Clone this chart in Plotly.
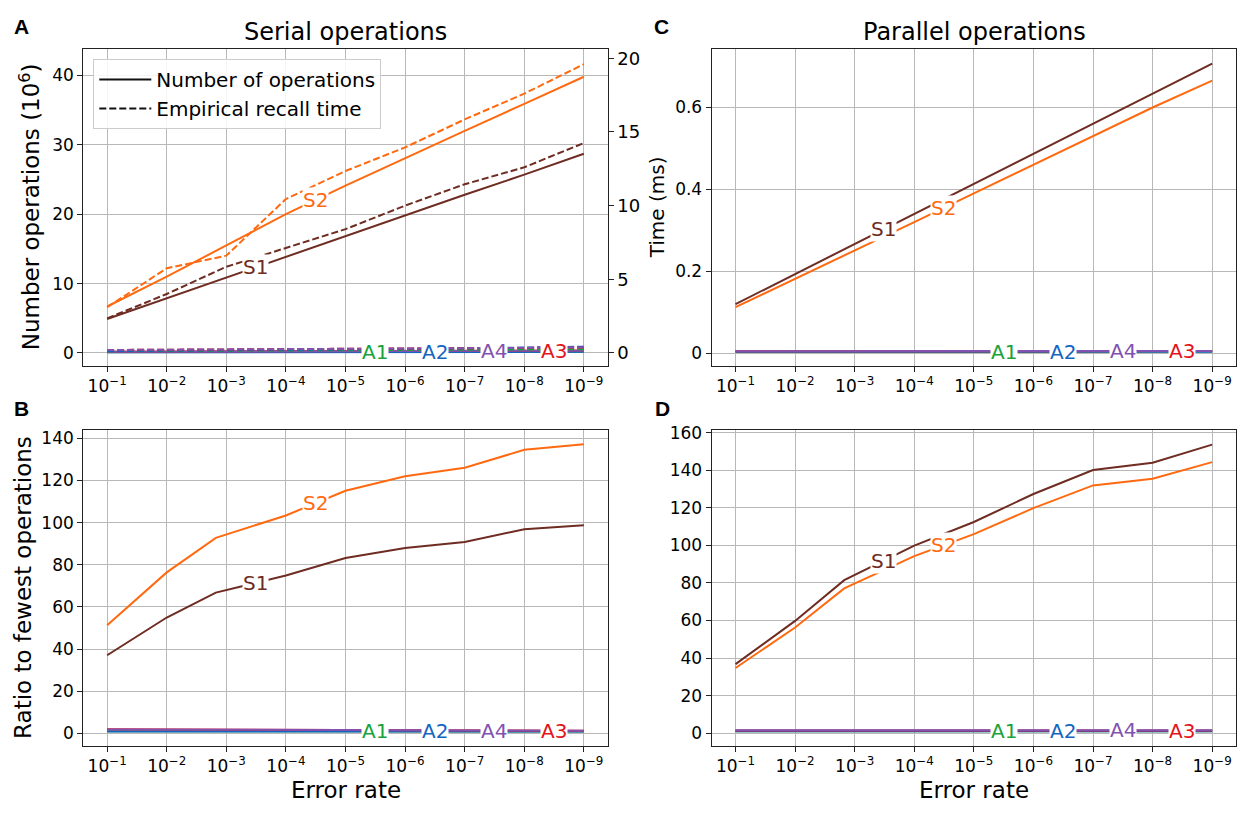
import numpy as np
import plotly.graph_objects as go

# ---------------- data ----------------
error_rates = [1e-1, 1e-2, 1e-3, 1e-4, 1e-5, 1e-6, 1e-7, 1e-8, 1e-9]
error_rates_ratio = [1e-1, 1e-2, 1.5e-3, 1e-4, 1e-5, 1e-6, 1e-7, 1e-8, 1e-9]
tick_labels = ["10<sup>\u22121</sup>", "10<sup>\u22122</sup>", "10<sup>\u22123</sup>",
               "10<sup>\u22124</sup>", "10<sup>\u22125</sup>", "10<sup>\u22126</sup>",
               "10<sup>\u22127</sup>", "10<sup>\u22128</sup>", "10<sup>\u22129</sup>"]

# Panel A: number of serial operations (10^6), left axis
s1_ops = [4.9, 7.9, 10.9, 13.8, 16.8, 19.8, 22.8, 25.7, 28.7]
s2_ops = [6.7, 11.0, 15.5, 20.0, 24.1, 28.1, 32.0, 35.9, 39.8]
a1_ops = [0.10, 0.11, 0.12, 0.13, 0.14, 0.15, 0.16, 0.17, 0.18]
a2_ops = [0.09, 0.10, 0.11, 0.12, 0.13, 0.14, 0.15, 0.16, 0.17]
a3_ops = [0.19, 0.21, 0.23, 0.25, 0.27, 0.29, 0.31, 0.33, 0.35]
a4_ops = [0.18, 0.20, 0.22, 0.24, 0.26, 0.28, 0.30, 0.32, 0.34]
# Panel A: empirical recall time (right axis)
s1_recall = [2.35, 4.0, 5.85, 7.1, 8.4, 10.0, 11.45, 12.6, 14.25]
s2_recall = [3.1, 5.75, 6.6, 10.45, 12.35, 13.95, 15.85, 17.6, 19.6]
a1_recall = [0.12, 0.14, 0.15, 0.17, 0.18, 0.20, 0.22, 0.24, 0.25]
a2_recall = [0.13, 0.15, 0.17, 0.20, 0.23, 0.27, 0.31, 0.36, 0.42]
a3_recall = [0.20, 0.22, 0.24, 0.26, 0.28, 0.30, 0.32, 0.34, 0.36]
a4_recall = [0.20, 0.21, 0.23, 0.25, 0.28, 0.30, 0.33, 0.35, 0.37]

# Panel C: parallel time (ms)
s1_time = [0.1195, 0.193, 0.266, 0.340, 0.413, 0.487, 0.560, 0.634, 0.707]
s2_time = [0.112, 0.181, 0.250, 0.320, 0.390, 0.460, 0.530, 0.600, 0.6655]
a1_time = [0.0030, 0.0030, 0.0031, 0.0031, 0.0032, 0.0032, 0.0033, 0.0033, 0.0034]
a2_time = [0.0028, 0.0029, 0.0029, 0.0030, 0.0030, 0.0031, 0.0031, 0.0032, 0.0032]
a3_time = [0.0040, 0.0041, 0.0042, 0.0043, 0.0044, 0.0045, 0.0046, 0.0047, 0.0048]
a4_time = [0.0042, 0.0043, 0.0044, 0.0045, 0.0046, 0.0047, 0.0048, 0.0049, 0.0050]

# Panel B: ratio to fewest operations (serial)
s1_ratio_serial = [37.1, 55.0, 66.8, 74.9, 83.2, 88.0, 90.8, 96.9, 98.8]
s2_ratio_serial = [51.3, 76.4, 92.8, 103.4, 115.1, 122.0, 126.0, 134.5, 137.2]
a1_ratio_serial = [1.1, 1.1, 1.05, 1.05, 1.0, 1.0, 1.0, 1.0, 1.0]
a2_ratio_serial = [1.0, 1.0, 1.0, 1.0, 1.0, 1.0, 1.0, 1.0, 1.0]
a3_ratio_serial = [2.0, 1.9, 1.8, 1.7, 1.6, 1.5, 1.45, 1.4, 1.35]
a4_ratio_serial = [1.9, 1.85, 1.75, 1.65, 1.55, 1.5, 1.45, 1.4, 1.35]

# Panel D: ratio to fewest operations (parallel)
s1_ratio_parallel = [36.8, 59.8, 81.5, 99.9, 112.5, 127.4, 140.2, 144.1, 153.7]
s2_ratio_parallel = [34.7, 56.3, 77.1, 94.3, 106.0, 119.9, 132.0, 135.5, 144.4]
a1_ratio_parallel = [1.0, 1.0, 1.0, 1.0, 1.0, 1.0, 1.0, 1.0, 1.0]
a2_ratio_parallel = [1.0, 1.0, 1.0, 1.0, 1.0, 1.0, 1.0, 1.0, 1.0]
a3_ratio_parallel = [1.4, 1.4, 1.4, 1.4, 1.4, 1.4, 1.4, 1.4, 1.4]
a4_ratio_parallel = [1.5, 1.5, 1.5, 1.5, 1.5, 1.5, 1.5, 1.5, 1.5]

COL = {"A1": "#17a33a", "A2": "#1565c0", "A3": "#e3121b", "A4": "#8152b0",
       "S1": "#6e2c22", "S2": "#ff6a10"}
FONT = "DejaVu Sans"

# page has an 8px body margin: figure is placed at (8, 8) in the 1248x814 window
OFF = 8
W, H = 1248 - 2 * OFF, 814 - 2 * OFF


def X(p):
    return (p - OFF) / W


def Y(p):
    return 1 - (p - OFF) / H


# label positions (exponent of error rate)
label_pos = {"S1": 3.49, "S2": 4.49, "A1": 5.5, "A2": 6.5, "A4": 7.5, "A3": 8.5}

fig = go.Figure()


def add_line(x, y, name, xa, ya, dash="solid"):
    fig.add_trace(go.Scatter(x=x, y=y, mode="lines", xaxis=xa, yaxis=ya,
                             line=dict(color=COL[name], width=2, dash=dash),
                             showlegend=False, hoverinfo="skip"))


def interp(x, y, e):
    return float(np.interp(e, -np.log10(np.array(x)), np.array(y)))


def add_labels(series, xa, ya):
    for name, (x, y) in series.items():
        e = label_pos[name]
        fig.add_annotation(x=-e, y=interp(x, y, e), xref=xa, yref=ya, text=name,
                           showarrow=False, bgcolor="white", borderpad=0,
                           font=dict(family=FONT, size=20, color=COL[name]))


# Panel A
for nm, yv in [("A1", a1_recall), ("A2", a2_recall), ("A3", a3_recall), ("A4", a4_recall)]:
    add_line(error_rates, yv, nm, "x", "y5", dash="7px,3px")
for nm, yv in [("A1", a1_ops), ("A2", a2_ops), ("A3", a3_ops), ("A4", a4_ops)]:
    add_line(error_rates, yv, nm, "x", "y")
add_line(error_rates, s1_recall, "S1", "x", "y5", dash="7px,3px")
add_line(error_rates, s2_recall, "S2", "x", "y5", dash="7px,3px")
add_line(error_rates, s1_ops, "S1", "x", "y")
add_line(error_rates, s2_ops, "S2", "x", "y")
add_labels({"S1": (error_rates, s1_ops), "S2": (error_rates, s2_ops),
            "A1": (error_rates, a1_ops), "A2": (error_rates, a2_ops),
            "A4": (error_rates, a4_ops), "A3": (error_rates, a3_ops)}, "x", "y")

# legend entries
fig.add_trace(go.Scatter(x=[None], y=[None], mode="lines", xaxis="x", yaxis="y",
                         name="Number of operations", line=dict(color="#111111", width=2)))
fig.add_trace(go.Scatter(x=[None], y=[None], mode="lines", xaxis="x", yaxis="y",
                         name="Empirical recall time",
                         line=dict(color="#111111", width=2, dash="7px,3px")))

# Panel C
for nm, yv in [("A1", a1_time), ("A2", a2_time), ("A3", a3_time), ("A4", a4_time),
               ("S1", s1_time), ("S2", s2_time)]:
    add_line(error_rates, yv, nm, "x2", "y2")
add_labels({"S1": (error_rates, s1_time), "S2": (error_rates, s2_time),
            "A1": (error_rates, a1_time), "A2": (error_rates, a2_time),
            "A4": (error_rates, a4_time), "A3": (error_rates, a3_time)}, "x2", "y2")

# Panel B
for nm, yv in [("A1", a1_ratio_serial), ("A2", a2_ratio_serial), ("A3", a3_ratio_serial),
               ("A4", a4_ratio_serial), ("S1", s1_ratio_serial), ("S2", s2_ratio_serial)]:
    add_line(error_rates_ratio, yv, nm, "x3", "y3")
add_labels({"S1": (error_rates_ratio, s1_ratio_serial), "S2": (error_rates_ratio, s2_ratio_serial),
            "A1": (error_rates_ratio, a1_ratio_serial), "A2": (error_rates_ratio, a2_ratio_serial),
            "A4": (error_rates_ratio, a4_ratio_serial), "A3": (error_rates_ratio, a3_ratio_serial)},
           "x3", "y3")

# Panel D
for nm, yv in [("A1", a1_ratio_parallel), ("A2", a2_ratio_parallel), ("A3", a3_ratio_parallel),
               ("A4", a4_ratio_parallel), ("S1", s1_ratio_parallel), ("S2", s2_ratio_parallel)]:
    add_line(error_rates_ratio, yv, nm, "x4", "y4")
add_labels({"S1": (error_rates_ratio, s1_ratio_parallel), "S2": (error_rates_ratio, s2_ratio_parallel),
            "A1": (error_rates_ratio, a1_ratio_parallel), "A2": (error_rates_ratio, a2_ratio_parallel),
            "A4": (error_rates_ratio, a4_ratio_parallel), "A3": (error_rates_ratio, a3_ratio_parallel)},
           "x4", "y4")

# ---------------- layout ----------------
tickfont = dict(family=FONT, size=17, color="black")
common_x = dict(type="log", range=[-0.6, -9.4], tickvals=error_rates, ticktext=tick_labels,
                showgrid=True, gridcolor="#b8b8b8", gridwidth=1, zeroline=False,
                showline=True, mirror=True, linecolor="#222222", linewidth=1.2,
                ticks="outside", ticklen=5, tickcolor="#222222", tickfont=tickfont)
common_y = dict(showgrid=True, gridcolor="#b8b8b8", gridwidth=1, zeroline=False,
                showline=True, mirror=True, linecolor="#222222", linewidth=1.2,
                ticks="outside", ticklen=5, tickcolor="#222222", tickfont=tickfont)

colL = [X(83.3), X(607.7)]
colR = [X(711.7), X(1236)]
rowT = [Y(362), Y(42.3)]
rowB = [Y(745), Y(426.5)]

fig.update_layout(
    width=W, height=H,
    margin=dict(l=0, r=0, t=0, b=0),
    paper_bgcolor="white", plot_bgcolor="white",
    font=dict(family=FONT, color="black"),
    xaxis=dict(domain=colL, anchor="y", **common_x),
    yaxis=dict(domain=rowT, anchor="x", range=[-1.86, 43.8], tickvals=[0, 10, 20, 30, 40], **common_y),
    yaxis5=dict(overlaying="y", side="right", anchor="x", range=[-0.88, 20.63],
                tickvals=[0, 5, 10, 15, 20], showgrid=False, zeroline=False, showline=False,
                ticks="outside", ticklen=5, tickcolor="#222222",
                tickfont=dict(family=FONT, size=18, color="black")),
    xaxis2=dict(domain=colR, anchor="y2", **common_x),
    yaxis2=dict(domain=rowT, anchor="x2", range=[-0.0315, 0.743], tickvals=[0, 0.2, 0.4, 0.6],
                ticktext=["0", "0.2", "0.4", "0.6"], **common_y),
    xaxis3=dict(domain=colL, anchor="y3", **common_x),
    yaxis3=dict(domain=rowB, anchor="x3", range=[-5.7, 144],
                tickvals=[0, 20, 40, 60, 80, 100, 120, 140], **common_y),
    xaxis4=dict(domain=colR, anchor="y4", **common_x),
    yaxis4=dict(domain=rowB, anchor="x4", range=[-6.6, 161.6],
                tickvals=[0, 20, 40, 60, 80, 100, 120, 140, 160], **common_y),
    legend=dict(x=X(93.3), y=Y(52.3), xanchor="left", yanchor="top",
                bgcolor="rgba(255,255,255,0.85)", bordercolor="#cccccc", borderwidth=1,
                font=dict(family=FONT, size=20, color="black"), itemwidth=52,
                tracegroupgap=2),
    showlegend=True,
)

texts = [
    ("A", 21, 20, 21, True, 0), ("B", 21, 405, 21, True, 0),
    ("C", 661, 20, 21, True, 0), ("D", 663, 405, 21, True, 0),
    ("Serial operations", 345.5, 25, 24, False, 0),
    ("Parallel operations", 974, 25, 24, False, 0),
    ("Number operations (10<sup>6</sup>)", 30, 202, 23, False, -90),
    ("Time (ms)", 657, 202, 20, False, -90),
    ("Ratio to fewest operations", 23, 586, 23, False, -90),
    ("Error rate", 345.5, 790, 23, False, 0),
    ("Error rate", 974, 790, 23, False, 0),
]
for t, x, y, s, bold, ang in texts:
    fig.add_annotation(x=X(x), y=Y(y), xref="paper", yref="paper",
                       text=f"<b>{t}</b>" if bold else t, showarrow=False,
                       xanchor="center", yanchor="middle", textangle=ang,
                       font=dict(family="Liberation Sans" if bold else FONT, size=s, color="black"))

fig.write_html("out.html")
